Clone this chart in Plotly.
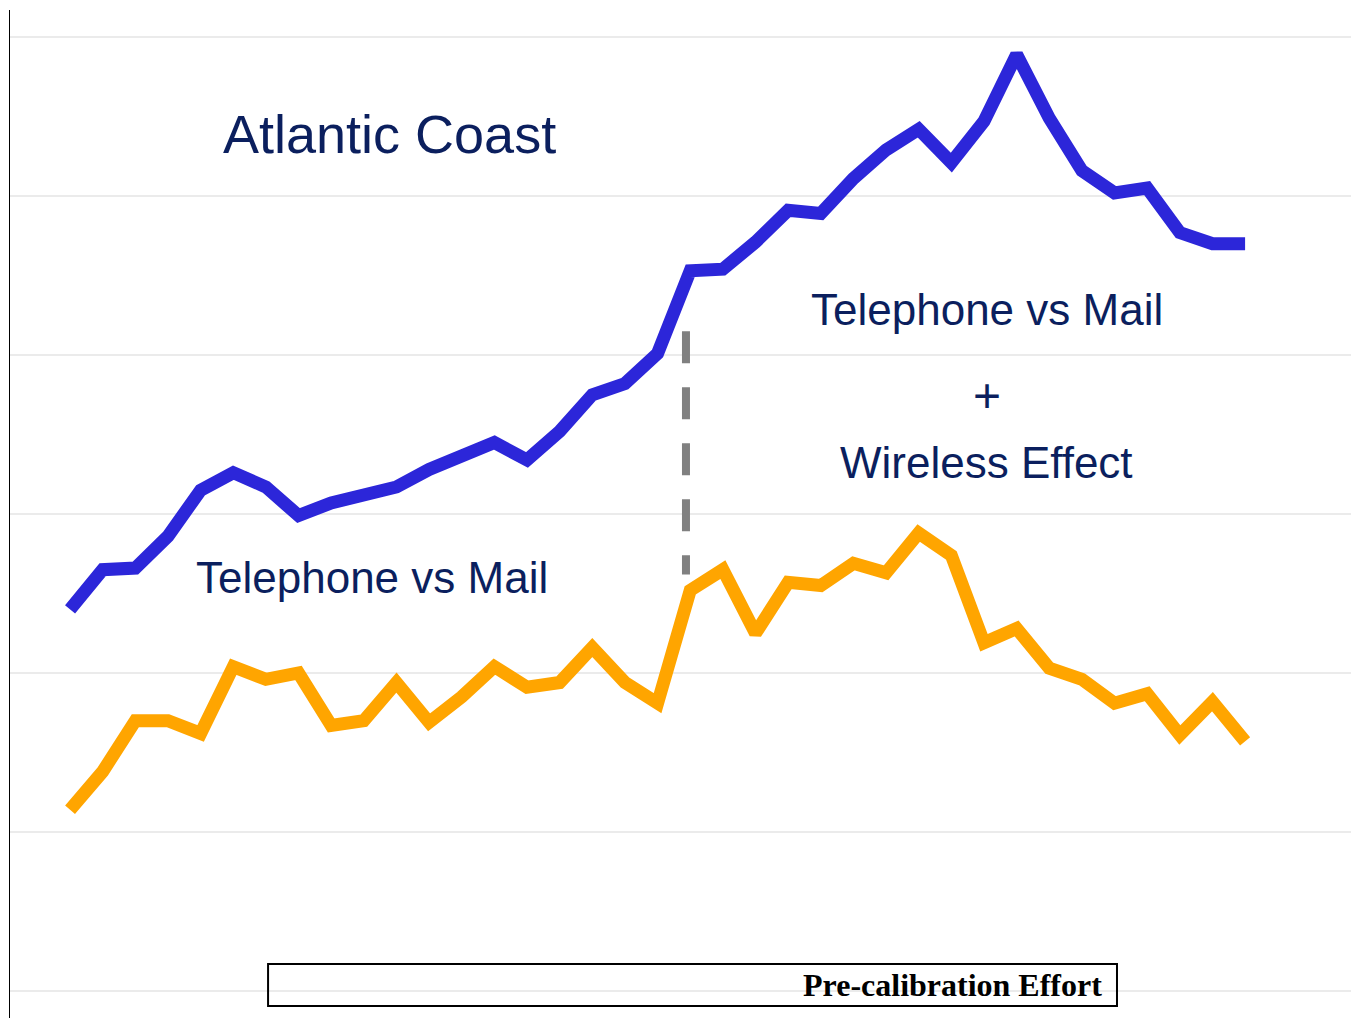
import plotly.graph_objects as go

# period index along the x axis (no tick labels shown)
periods = list(range(1, 38))

atlantic_total = [2.40, 2.65, 2.66, 2.86, 3.15, 3.26, 3.17, 2.99, 3.07, 3.11,
                  3.17, 3.28, 3.37, 3.45, 3.34, 3.52, 3.75, 3.82, 4.01, 4.53,
                  4.54, 4.71, 4.91, 4.89, 5.11, 5.29, 5.42, 5.21, 5.47, 5.89,
                  5.49, 5.16, 5.02, 5.05, 4.77, 4.70, 4.70]

tel_vs_mail = [1.14, 1.38, 1.70, 1.70, 1.62, 2.04, 1.96, 2.00, 1.67, 1.70,
               1.94, 1.69, 1.85, 2.04, 1.91, 1.94, 2.16, 1.94, 1.81, 2.52,
               2.65, 2.25, 2.57, 2.55, 2.69, 2.63, 2.88, 2.74, 2.19, 2.28,
               2.03, 1.96, 1.81, 1.87, 1.61, 1.82, 1.57]

# break point between the two regimes
break_x = [19.87, 19.87]
break_y = [4.15, 2.62]

BLUE = "#2C26D9"
ORANGE = "#FFA500"
NAVY = "#0B1F5E"
NARROW = "Liberation Sans Narrow, Arial Narrow, Liberation Sans, Arial, sans-serif"

fig = go.Figure()
fig.add_trace(go.Scatter(x=periods, y=atlantic_total, mode="lines",
                         line=dict(color=BLUE, width=13), hoverinfo="skip"))
fig.add_trace(go.Scatter(x=periods, y=tel_vs_mail, mode="lines",
                         line=dict(color=ORANGE, width=13), hoverinfo="skip"))
fig.add_trace(go.Scatter(x=break_x, y=break_y, mode="lines",
                         line=dict(color="#808080", width=8, dash="32px,24px"), hoverinfo="skip"))

def label(text, x, y, size):
    fig.add_annotation(text=text, x=x, y=y, xref="paper", yref="paper",
                       xanchor="center", yanchor="middle", showarrow=False,
                       font=dict(family=NARROW, size=size, color=NAVY))

label("Atlantic Coast", 0.281, 0.877, 54)
label("Telephone vs Mail", 0.268, 0.4375, 44)
label("Telephone vs Mail", 0.7242, 0.7024, 44)
label("+", 0.7242, 0.618, 48)
label("Wireless Effect", 0.7242, 0.5506, 44)

# boxed footer
fig.add_shape(type="rect", xref="paper", yref="paper",
              x0=0.1913, x1=0.8206, y0=0.0119, y1=0.0536,
              line=dict(color="black", width=2), fillcolor="rgba(0,0,0,0)")
fig.add_annotation(text="<b>Pre-calibration Effort</b>", x=0.8110, y=0.0327,
                   xref="paper", yref="paper", xanchor="right", yanchor="middle",
                   showarrow=False,
                   font=dict(family="Liberation Serif, Times New Roman, serif", size=32, color="black"))

fig.update_layout(
    width=1351, height=1010,
    paper_bgcolor="white", plot_bgcolor="white",
    margin=dict(l=2, r=0, t=2, b=0),
    showlegend=False,
    xaxis=dict(range=[-0.84, 40.49], showgrid=False, zeroline=False,
               showticklabels=False, showline=False),
    yaxis=dict(range=[-0.17, 6.17], dtick=1, tick0=0, showgrid=True,
               gridcolor="#EBEBEB", gridwidth=2, zeroline=False,
               showticklabels=False, showline=True, linecolor="black", linewidth=1),
)

fig.write_html("out.html")
